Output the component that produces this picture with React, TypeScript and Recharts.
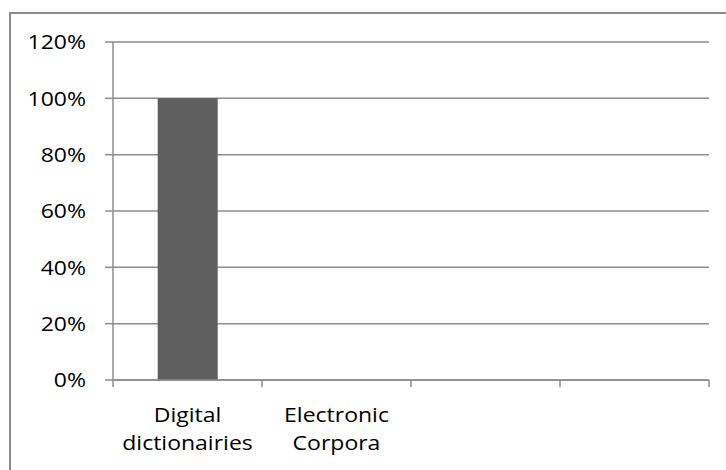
import React from "react";
import { Bar, BarChart, CartesianGrid, XAxis, YAxis } from "recharts";

// categories along the bottom (the last two slots are left blank)
const categories: string[][] = [
  ["Digital", "dictionairies"],
  ["Electronic", "Corpora"],
  [],
  [],
];
const shareValues = [1.0, 0, 0, 0];
const yTicks = [0, 0.2, 0.4, 0.6, 0.8, 1.0, 1.2];

const data = categories.map((lines, i) => ({
  name: lines.join(" ") || " ".repeat(i + 1),
  lines,
  value: shareValues[i],
}));

const AXIS_GRAY = "#8c8c8c";
const FONT = "'Open Sans', 'Liberation Sans', sans-serif";
const STRETCH = "scale(1.15,1)";

function YTick({ x, y, payload }: any) {
  return (
    <g transform={`translate(${x},${y})`}>
      <text transform={STRETCH} textAnchor="end" dy="0.36em" fontFamily={FONT} fontSize={20} fill="#000">
        {`${Math.round(payload.value * 100)}%`}
      </text>
    </g>
  );
}

function XTick({ x, y, payload, index }: any) {
  const half = payload.offset || 0;
  const lines: string[] = data[index]?.lines || [];
  const last = index === data.length - 1;
  return (
    <g>
      <line x1={x - half} x2={x - half} y1={y} y2={y + 7} stroke={AXIS_GRAY} strokeWidth={1.5} />
      {last && <line x1={x + half} x2={x + half} y1={y} y2={y + 7} stroke={AXIS_GRAY} strokeWidth={1.5} />}
      {lines.map((t, i) => (
        <g key={i} transform={`translate(${x},${y + 42 + i * 28})`}>
          <text transform={STRETCH} textAnchor="middle" fontFamily={FONT} fontSize={20} fill="#000">
            {t}
          </text>
        </g>
      ))}
    </g>
  );
}

export default function App() {
  return (
    <div style={{ position: "fixed", top: 0, left: 0, width: 726, height: 470, overflow: "hidden", background: "#fff" }}>
      <div
        style={{
          position: "absolute",
          left: 9,
          top: 12,
          width: 760,
          height: 520,
          borderTop: `2px solid ${AXIS_GRAY}`,
          borderLeft: `2px solid ${AXIS_GRAY}`,
        }}
      />
      <div style={{ position: "absolute", left: 0, top: 0 }}>
        <BarChart
          width={726}
          height={470}
          data={data}
          margin={{ top: 42, right: 17, bottom: 0, left: 0 }}
          barCategoryGap="30%"
        >
          <CartesianGrid vertical={false} stroke={AXIS_GRAY} strokeWidth={1.5} />
          <XAxis
            dataKey="name"
            height={90}
            axisLine={{ stroke: AXIS_GRAY, strokeWidth: 1.5 }}
            tickLine={false}
            tickSize={0}
            tickMargin={0}
            interval={0}
            tick={<XTick />}
          />
          <YAxis
            width={113}
            domain={[0, 1.2]}
            ticks={yTicks}
            interval={0}
            axisLine={{ stroke: AXIS_GRAY, strokeWidth: 1.5 }}
            tickLine={{ stroke: AXIS_GRAY, strokeWidth: 1.5 }}
            tickSize={8}
            tickMargin={19}
            tick={<YTick />}
          />
          <Bar dataKey="value" fill="#5f5f5f" isAnimationActive={false} />
        </BarChart>
      </div>
    </div>
  );
}
